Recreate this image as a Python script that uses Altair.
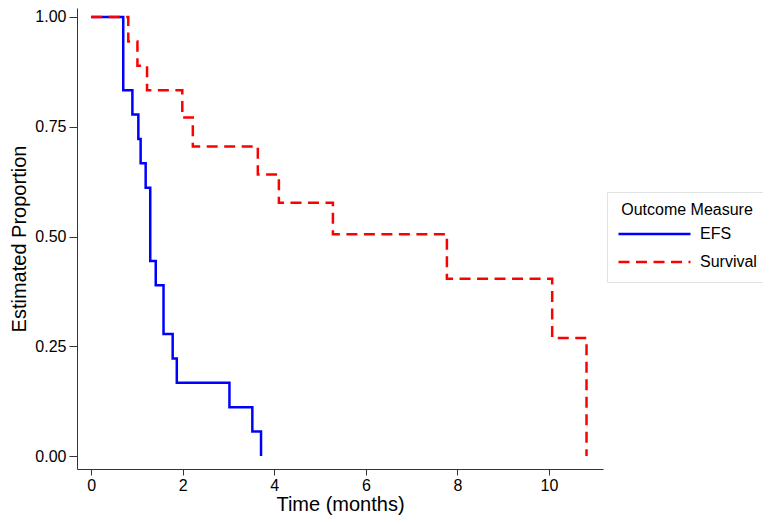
import altair as alt
import pandas as pd

# Kaplan-Meier step estimates
efs_time = [0, 0.70, 0.90, 1.03, 1.08, 1.19, 1.29, 1.41, 1.58, 1.78, 1.87, 3.02, 3.52, 3.71]
efs_prop = [1.000, 0.833, 0.778, 0.722, 0.667, 0.611, 0.444, 0.389, 0.278, 0.222, 0.167, 0.111, 0.056, 0.000]

surv_time = [0, 0.81, 1.01, 1.22, 1.99, 2.22, 3.64, 4.10, 5.28, 7.77, 10.07, 10.82]
surv_prop = [1.000, 0.944, 0.889, 0.833, 0.771, 0.705, 0.641, 0.577, 0.505, 0.404, 0.269, 0.000]

series = ["EFS", "Survival"]
x_ticks = [0, 2, 4, 6, 8, 10]
y_ticks = [0, 0.25, 0.5, 0.75, 1.0]

rows = []
for t, p in zip(efs_time, efs_prop):
    rows.append({"time": t, "prop": p, "measure": "EFS"})
for t, p in zip(surv_time, surv_prop):
    rows.append({"time": t, "prop": p, "measure": "Survival"})
df = pd.DataFrame(rows)

FONT = "Liberation Sans"

chart = alt.Chart(df).mark_line(interpolate="step-after", strokeWidth=2.5).encode(
    x=alt.X("time:Q",
            scale=alt.Scale(domain=[-0.31, 11.18], nice=False, zero=False),
            axis=alt.Axis(values=x_ticks, title="Time (months)", format="d",
                          tickSize=6, labelPadding=2, titlePadding=1,
                          labelFontSize=16, titleFontSize=20)),
    y=alt.Y("prop:Q",
            scale=alt.Scale(domain=[-0.0296, 1.0205], nice=False, zero=False),
            axis=alt.Axis(values=y_ticks, title="Estimated Proportion", format=".2f",
                          tickSize=8, labelPadding=3, titlePadding=5,
                          labelFontSize=16, titleFontSize=20)),
    color=alt.Color("measure:N",
                    scale=alt.Scale(domain=series, range=["#0000FF", "#FF0000"]),
                    legend=alt.Legend(title="Outcome Measure")),
    strokeDash=alt.StrokeDash("measure:N",
                              scale=alt.Scale(domain=series, range=[[1, 0], [11, 6.5]]),
                              legend=alt.Legend(title="Outcome Measure")),
    detail="measure:N",
    order="time:Q",
).properties(
    width=526,
    height=461,
    autosize=alt.AutoSizeParams(type="none"),
    padding={"left": 69, "top": 0, "right": 160, "bottom": 47},
).configure(
    font=FONT,
).configure_view(
    stroke=None,
).configure_axis(
    grid=False,
    domainColor="#333333",
    tickColor="#333333",
    labelColor="#000000",
    titleColor="#000000",
    labelFont=FONT,
    titleFont=FONT,
    titleFontWeight="normal",
).configure_legend(
    orient="none",
    legendX=530,
    legendY=184,
    titleFont=FONT,
    labelFont=FONT,
    titleFontSize=16,
    labelFontSize=16,
    titleFontWeight="normal",
    titleColor="#000000",
    labelColor="#000000",
    titleAnchor="middle",
    titleAlign="center",
    titlePadding=6,
    symbolType="stroke",
    symbolSize=5184,
    symbolStrokeWidth=2.5,
    clipHeight=20,
    labelOffset=8,
    rowPadding=8,
    padding=10,
    strokeColor="#dfe3e3",
    fillColor="#ffffff",
    cornerRadius=0,
)

chart.save("out.html", embed_options={"renderer": "svg", "actions": False})
